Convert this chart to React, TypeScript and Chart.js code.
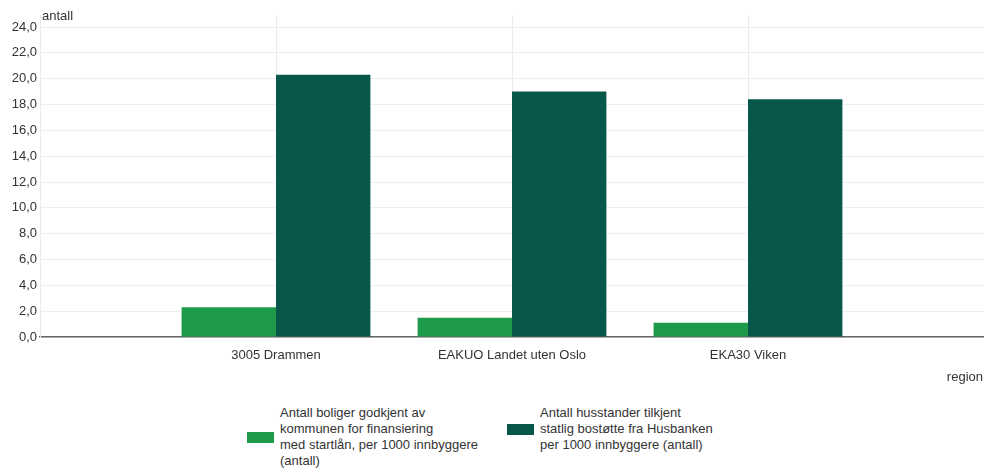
import React, { useEffect, useRef } from "react";
import { Chart, registerables } from "chart.js";

Chart.register(...registerables);

const categories = ["", "3005 Drammen", "EAKUO Landet uten Oslo", "EKA30 Viken", ""];
const startlan = [null, 2.3, 1.5, 1.1, null];
const bostotte = [null, 20.3, 19.0, 18.4, null];
const seriesLabels = [
  "Antall boliger godkjent av\nkommunen for finansiering\nmed startlån, per 1000 innbyggere\n(antall)",
  "Antall husstander tilkjent\nstatlig bostøtte fra Husbanken\nper 1000 innbyggere (antall)",
];
const seriesColors = ["#1e9b4a", "#07584a"];
const yTitle = "antall";
const xTitle = "region";

const FONT = "'Liberation Sans', Arial, sans-serif";

const axisTitles = {
  id: "axisTitles",
  afterDraw(chart: any) {
    const ctx = chart.ctx;
    const area = chart.chartArea;
    ctx.save();
    ctx.font = `13px ${FONT}`;
    ctx.fillStyle = "#333333";
    ctx.textBaseline = "middle";
    ctx.textAlign = "left";
    ctx.fillText(yTitle, area.left + 2, 16);
    ctx.textAlign = "right";
    ctx.fillText(xTitle, chart.width - 1, 377);
    ctx.restore();
  },
};

export default function App() {
  const ref = useRef<HTMLCanvasElement>(null);
  useEffect(() => {
    document.body.style.margin = "0";
    const chart = new Chart(ref.current!, {
      type: "bar",
      data: {
        labels: categories,
        datasets: [
          { label: seriesLabels[0], data: startlan as any, backgroundColor: seriesColors[0] },
          { label: seriesLabels[1], data: bostotte as any, backgroundColor: seriesColors[1] },
        ],
      },
      options: {
        animation: false,
        responsive: false,
        maintainAspectRatio: false,
        layout: { padding: { top: 15, right: 0, bottom: 0, left: 0 } },
        datasets: { bar: { categoryPercentage: 0.8, barPercentage: 1.0 } },
        plugins: { legend: { display: false }, tooltip: { enabled: false } },
        scales: {
          x: {
            offset: false,
            grid: { color: "#e9ecec", drawTicks: false, offset: false },
            border: { color: "#666666", width: 1.5 },
            ticks: {
              font: { family: FONT, size: 13 },
              color: "#333333",
              padding: 11,
              maxRotation: 0,
              autoSkip: false,
            },
            afterFit: (s: any) => {
              s.height = 58;
              s.paddingLeft = 0;
              s.paddingRight = 0;
            },
          },
          y: {
            min: 0,
            max: 24.93,
            grid: { color: "#eceff0", drawTicks: false },
            border: { color: "#e3ecf0" },
            afterBuildTicks: (s: any) => {
              s.ticks = [];
              for (let v = 0; v <= 24; v += 2) s.ticks.push({ value: v });
            },
            ticks: {
              font: { family: FONT, size: 13 },
              color: "#333333",
              padding: 3,
              callback: (v: any) => Number(v).toFixed(1).replace(".", ","),
            },
            afterFit: (s: any) => {
              s.width = 40;
            },
          },
        },
      },
      plugins: [axisTitles],
    });
    return () => chart.destroy();
  }, []);

  const legendLeft = [247, 507];

  return (
    <div style={{ position: "absolute", left: 0, top: 0, width: 984, height: 470, background: "#fff" }}>
      <canvas ref={ref} width={984} height={395} style={{ position: "absolute", left: 0, top: 0, width: 984, height: 395 }} />
      {seriesLabels.map((lab, i) => (
        <div
          key={i}
          style={{
            position: "absolute",
            left: legendLeft[i],
            top: 405,
            display: "flex",
            alignItems: "center",
            fontFamily: FONT,
            fontSize: 13,
            lineHeight: "16px",
            color: "#333333",
          }}
        >
          <div style={{ width: 27, height: 11, background: seriesColors[i], marginRight: 6, flex: "none" }} />
          <div style={{ whiteSpace: "pre" }}>{lab}</div>
        </div>
      ))}
    </div>
  );
}
